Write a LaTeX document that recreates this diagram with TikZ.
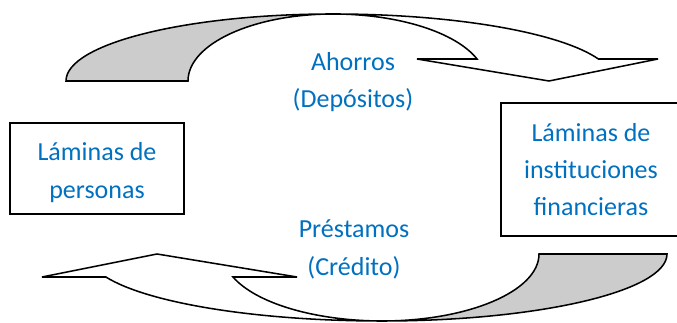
\documentclass[tikz,border=0pt]{standalone}
\usepackage{fontspec}
\setmainfont{Carlito}
\usetikzlibrary{positioning}
\definecolor{flowblue}{RGB}{0,112,192}
\definecolor{bandgray}{RGB}{204,204,204}

\begin{document}
\begin{tikzpicture}[x=0.75pt, y=0.75pt, line width=1.15pt, line join=miter,
  every node/.style = {font=\fontsize{19.5pt}{28pt}\selectfont},
  lamina/.style = {draw, line width=1.4pt, align=center, text=flowblue},
  flowtext/.style = {align=center, text=flowblue},
  band/.style = {draw, fill=bandgray},
  front/.style = {draw, fill=white}]
  \clip (0,0) rectangle (677,323);

  % Nodes
  \node[lamina, minimum width=130.5pt, minimum height=68.25pt] (personas) at (97,154.5) {};
  \node[flowtext] (personastext) at ([yshift=-3pt]personas.center) {Láminas de\\personas};
  \node[lamina, minimum width=135pt, minimum height=99.75pt] (instituciones) at (591,153.5) {Láminas de\\instituciones\\financieras};
  \node[flowtext] (ahorros) at (353,241) {Ahorros\\(Depósitos)};
  \node[flowtext] (prestamos) at (354,73.5) {Préstamos\\(Crédito)};

  % Top arrow
  \draw[band] (66,242) arc[start angle=180, end angle=90, x radius=200.25pt, y radius=50.25pt]
              arc[start angle=90, end angle=180, x radius=108.75pt, y radius=50.25pt] -- cycle;
  \draw[front] (333,309) arc[start angle=90, end angle=19.17, x radius=210.75pt, y radius=50.25pt]
               -- (658,264) -- (549,242) -- (417,264) -- (477,264)
               arc[start angle=19.17, end angle=90, x radius=114.4pt, y radius=50.25pt] -- cycle;

  % Bottom arrow
  \draw[band] (667,69) arc[start angle=0, end angle=-90, x radius=213.75pt, y radius=50.25pt]
              arc[start angle=-90, end angle=0, x radius=117.75pt, y radius=50.25pt] -- cycle;
  \draw[front] (382,2) arc[start angle=270, end angle=200.08, x radius=220.5pt, y radius=50.25pt]
               -- (42,46) -- (157,69) -- (297,46) -- (233,46)
               arc[start angle=200.08, end angle=270, x radius=119.25pt, y radius=50.25pt] -- cycle;
\end{tikzpicture}
\end{document}
